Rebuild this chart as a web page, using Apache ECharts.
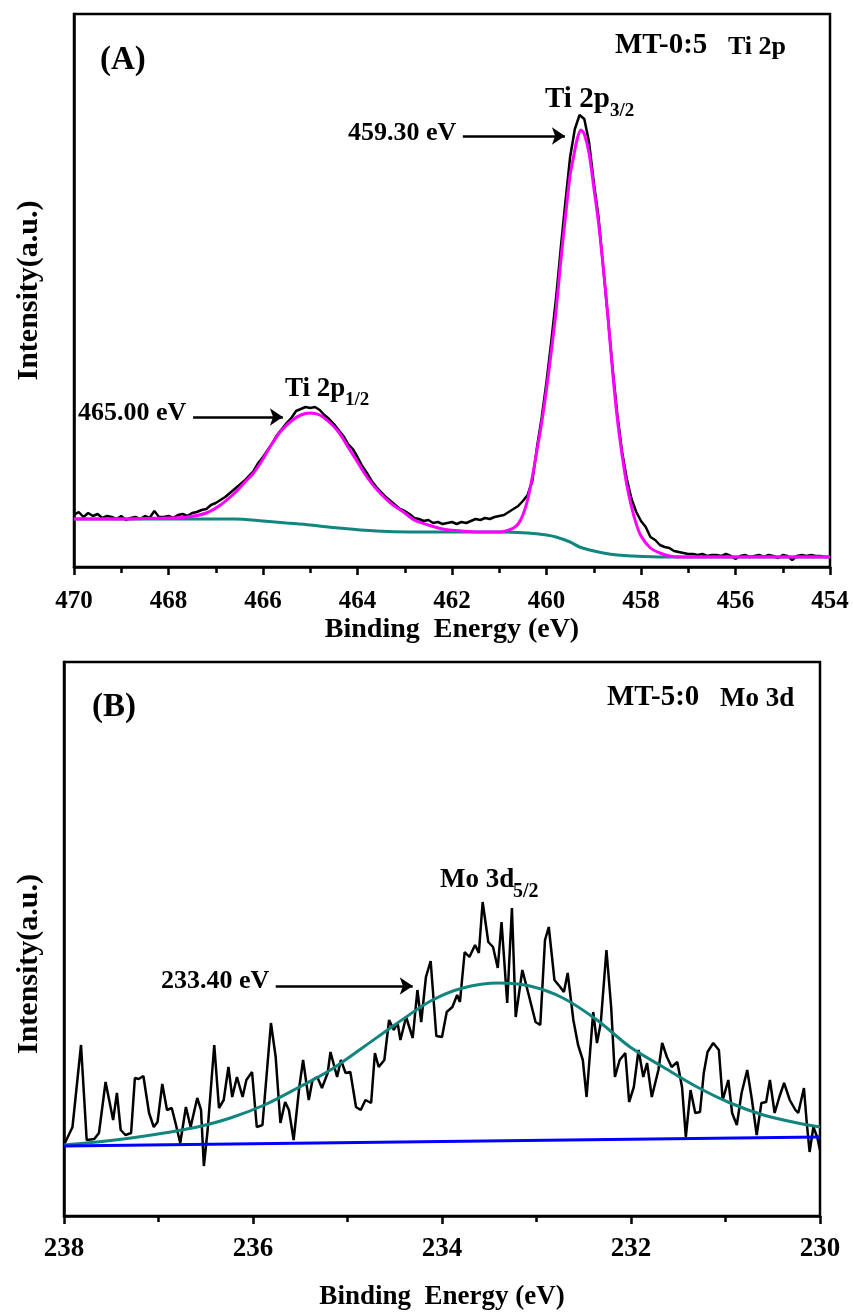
<!DOCTYPE html>
<html>
<head>
<meta charset="utf-8">
<title>XPS Ti 2p / Mo 3d</title>
<script src="https://cdn.jsdelivr.net/npm/echarts@6/dist/echarts.min.js"></script>
<style>
	html, body { margin: 0; padding: 0; background: #fff; }
	#mainChart { width: 853px; height: 1313px; }
</style>
</head>
<body>
<div id="mainChart"></div>
<script>
	// (A) Ti 2p, raw spectrum sampled every 0.1 eV from 470 down to 454
	var tiStart = 470, tiStep = 0.1;
	var tiRaw = [52, 55, 50, 54, 51, 53, 49, 51, 50, 48,
		51, 47, 49, 50, 48, 51, 49, 56, 50, 50,
		51, 49, 52, 53, 51, 54, 55, 57, 58, 62,
		64, 67, 70, 74, 78, 82, 86, 91, 96, 104,
		110, 117, 124, 132, 138, 144, 149, 156, 158, 160,
		159, 160, 157, 152, 148, 143, 137, 131, 123, 118,
		110, 101, 94, 86, 80, 75, 70, 66, 62, 58,
		56, 53, 49, 48, 46, 47, 44, 45, 43, 44,
		45, 43, 45, 44, 46, 48, 47, 49, 48, 50,
		51, 52, 55, 58, 61, 66, 72, 86, 120, 150,
		185, 225, 268, 318, 365, 410, 438, 452, 448, 425,
		385, 350, 300, 250, 198, 152, 115, 88, 68, 55,
		46, 40, 30, 27, 22, 20, 19, 16, 15, 14,
		13, 13, 12, 13, 11, 12, 12, 11, 13, 11,
		8, 11, 12, 10, 11, 12, 10, 12, 11, 9,
		12, 11, 7, 11, 12, 11, 12, 11, 11, 10,
		10];

	// fitted envelope (magenta) and Shirley background (teal)
	var tiFitE = [470, 469, 468.5, 468, 467.6, 467.2, 466.9, 466.6, 466.4, 466.2,
		466.0, 465.8, 465.6, 465.4, 465.2, 465.0, 464.8, 464.6, 464.4, 464.2,
		464.0, 463.8, 463.6, 463.3, 463.0, 462.8, 462.5, 462.2, 461.8, 461.4,
		461.0, 460.8, 460.7, 460.6, 460.5, 460.4, 460.3, 460.2, 460.1, 460.0,
		459.9, 459.8, 459.7, 459.6, 459.5, 459.44, 459.35, 459.27, 459.2, 459.1,
		459.0, 458.9, 458.8, 458.7, 458.6, 458.5, 458.4, 458.3, 458.2, 458.1,
		458.0, 457.8, 457.6, 457.4, 457.2, 454];
	var tiFit = [48, 48, 48.5, 49, 50, 54, 62, 74, 84, 94,
		108, 124, 137, 146, 152, 154, 152, 145, 135, 120,
		105, 90, 78, 64, 54, 47, 42, 38, 36, 35,
		35, 37, 39, 43, 52, 67, 90, 117, 145, 178,
		215, 255, 305, 350, 392, 407, 428, 437, 433, 414,
		380, 345, 300, 250, 195, 148, 112, 82, 60, 43,
		31, 19, 14, 11, 10, 10];
	var tiBgE = [470, 467, 466.6, 466, 465.5, 465, 464.4, 463.6, 462.9, 461,
		460.4, 460, 459.8, 459.5, 459.3, 459, 458.8, 458.5, 458.2, 457.5, 454];
	var tiBg = [48, 48, 48, 46, 44, 42, 39, 36, 35, 35,
		34, 32, 30, 25, 20, 16, 14, 12, 11, 10, 10];

	// (B) Mo 3d raw spectrum
	var moE = [238.00, 237.91, 237.82, 237.76, 237.68, 237.63, 237.56, 237.48, 237.44, 237.40,
		237.35, 237.29, 237.25, 237.21, 237.16, 237.10, 237.05, 237.01, 236.96, 236.91,
		236.86, 236.82, 236.77, 236.71, 236.66, 236.59, 236.55, 236.52, 236.48, 236.41,
		236.36, 236.31, 236.26, 236.22, 236.17, 236.11, 236.07, 236.01, 235.96, 235.90,
		235.81, 235.76, 235.71, 235.66, 235.62, 235.57, 235.51, 235.47, 235.41, 235.37,
		235.32, 235.27, 235.21, 235.18, 235.11, 235.07, 235.02, 234.97, 234.91, 234.86,
		234.81, 234.75, 234.71, 234.67, 234.61, 234.56, 234.51, 234.47, 234.44, 234.38,
		234.31, 234.26, 234.22, 234.17, 234.12, 234.06, 234.00, 233.95, 233.89, 233.84,
		233.81, 233.76, 233.71, 233.65, 233.61, 233.57, 233.51, 233.46, 233.41, 233.37,
		233.31, 233.26, 233.22, 233.15, 233.09, 233.01, 232.96, 232.91, 232.87, 232.81,
		232.75, 232.71, 232.67, 232.61, 232.56, 232.51, 232.47, 232.40, 232.36, 232.32,
		232.26, 232.21, 232.17, 232.12, 232.06, 232.02, 231.97, 231.92, 231.87, 231.83,
		231.78, 231.71, 231.67, 231.62, 231.57, 231.51, 231.46, 231.42, 231.37, 231.32,
		231.27, 231.23, 231.19, 231.13, 231.07, 231.03, 230.97, 230.93, 230.88, 230.83,
		230.77, 230.72, 230.67, 230.62, 230.57, 230.53, 230.48, 230.43, 230.38, 230.32,
		230.26, 230.23, 230.17, 230.14, 230.11, 230.07, 230.03, 230.00];
	var moRaw = [71, 89, 171, 76, 77, 83, 134, 96, 123, 86,
		81, 83, 138, 137, 140, 103, 89, 94, 132, 106,
		108, 93, 73, 109, 89, 118, 106, 50, 86, 171,
		108, 116, 149, 119, 139, 119, 136, 144, 89, 91,
		193, 159, 93, 114, 106, 76, 129, 156, 116, 136,
		139, 128, 143, 164, 139, 156, 143, 144, 109, 106,
		116, 113, 163, 149, 156, 196, 186, 193, 176, 199,
		178, 226, 194, 239, 255, 180, 179, 204, 209, 221,
		214, 264, 259, 271, 263, 314, 274, 269, 248, 294,
		213, 308, 199, 246, 224, 194, 191, 276, 289, 236,
		229, 224, 243, 196, 171, 156, 119, 204, 173, 193,
		266, 209, 139, 156, 163, 114, 129, 166, 139, 153,
		119, 146, 173, 159, 149, 154, 129, 79, 126, 103,
		104, 143, 164, 173, 166, 116, 136, 103, 91, 123,
		146, 116, 81, 113, 114, 136, 103, 119, 133, 116,
		106, 103, 128, 93, 64, 89, 79, 66];
	var moFitE = [238, 237.65, 237.29, 236.94, 236.59, 236.24, 235.88, 235.53, 235.18, 234.83,
		234.47, 234.12, 233.78, 233.4, 233.07, 232.72, 232.36, 232.01, 231.66, 231.30,
		230.95, 230.60, 230.24, 230];
	var moFit = [71, 74, 78, 83, 89, 98, 111, 128, 146, 169,
		193, 215, 228, 233, 230, 218, 196, 169, 149, 129,
		113, 101, 93, 89];
	var moBaseE = [238, 230];
	var moBase = [70, 79];

	var serif = '"Liberation Serif", "Times New Roman", serif';

	function zip(xs, ys) {
		var out = [];
		for (var i = 0; i < ys.length; i++) {
			out.push([xs[i], ys[i]]);
		}
		return out;
	}
	function tiRawData() {
		var out = [];
		for (var i = 0; i < tiRaw.length; i++) {
			out.push([Math.round((tiStart - i * tiStep) * 10) / 10, tiRaw[i]]);
		}
		return out;
	}
	function xAx(idx, min, max, labelSize, nameSize, nameGap, labelMargin) {
		return {
			type : 'value',
			gridIndex : idx,
			min : min,
			max : max,
			interval : 2,
			inverse : true,
			name : 'Binding  Energy (eV)',
			nameLocation : 'middle',
			nameGap : nameGap,
			nameTextStyle : { fontFamily : serif, fontWeight : 'bold', fontSize : nameSize, color : '#000' },
			axisLine : { lineStyle : { color : '#000', width : 2.5 } },
			axisTick : { inside : false, length : 8, lineStyle : { color : '#000', width : 2.5 } },
			minorTick : { show : true, splitNumber : 2, length : 6, lineStyle : { color : '#000', width : 2.5 } },
			axisLabel : { fontFamily : serif, fontWeight : 'bold', fontSize : labelSize, color : '#000', margin : labelMargin },
			splitLine : { show : false }
		};
	}
	function yAx(idx, max, nameGap, shift) {
		return {
			type : 'value',
			gridIndex : idx,
			min : 0,
			max : max,
			name : 'Intensity(a.u.)',
			nameLocation : 'middle',
			nameGap : nameGap,
			nameTextStyle : { fontFamily : serif, fontWeight : 'bold', fontSize : 30, color : '#000', padding : shift },
			axisLine : { show : true, lineStyle : { color : '#000', width : 2.5 } },
			axisTick : { show : false },
			axisLabel : { show : false },
			splitLine : { show : false }
		};
	}
	function arrow(x1, y1, x2, y2) {
		return [ { coord : [x1, y1] }, { coord : [x2, y2] } ];
	}
	function txt(x, y, s, size) {
		return {
			type : 'text',
			x : x,
			y : y,
			z : 100,
			style : { text : s, fill : '#000', font : 'bold ' + size + 'px ' + serif, verticalAlign : 'middle', align : 'left' }
		};
	}
	function arrows(list) {
		return {
			silent : true,
			symbol : ['none', 'arrow'],
			symbolSize : 13,
			label : { show : false },
			lineStyle : { color : '#000', width : 2.5, type : 'solid' },
			emphasis : { disabled : true },
			animation : false,
			data : list
		};
	}

	var myChart = echarts.init(document.getElementById('mainChart'));
	var option = {
		backgroundColor : '#fff',
		animation : false,
		grid : [
			{ left : 74, top : 14, width : 756, height : 553, show : true, borderColor : '#000', borderWidth : 2.5 },
			{ left : 64, top : 662, width : 756, height : 554, show : true, borderColor : '#000', borderWidth : 2.5 }
		],
		xAxis : [ xAx(0, 454, 470, 25, 28, 49, 22), xAx(1, 230, 238, 27, 27, 68, 20) ],
		yAxis : [ yAx(0, 553, 30, 0), yAx(1, 554, 20, [0, 50, 0, 0]) ],
		series : [
			{
				name : 'Ti raw', type : 'line', xAxisIndex : 0, yAxisIndex : 0,
				data : tiRawData(), showSymbol : false, symbol : 'none',
				lineStyle : { color : '#000', width : 2.5 },
				// arrows pointing at the peaks, placed in data coordinates
				markLine : arrows([
					arrow(461.77, 431, 459.61, 431),
					arrow(467.48, 150, 465.58, 150)
				])
			},
			{
				name : 'Ti background', type : 'line', xAxisIndex : 0, yAxisIndex : 0,
				data : zip(tiBgE, tiBg), showSymbol : false, symbol : 'none', smooth : 0.3,
				lineStyle : { color : '#12857e', width : 3 }
			},
			{
				name : 'Ti fit', type : 'line', xAxisIndex : 0, yAxisIndex : 0,
				data : zip(tiFitE, tiFit), showSymbol : false, symbol : 'none', smooth : 0.3,
				lineStyle : { color : '#ff00ff', width : 3 }
			},
			{
				name : 'Mo raw', type : 'line', xAxisIndex : 1, yAxisIndex : 1,
				data : zip(moE, moRaw), showSymbol : false, symbol : 'none',
				lineStyle : { color : '#000', width : 2.5 },
				markLine : arrows([ arrow(235.76, 230, 234.31, 230) ])
			},
			{
				name : 'Mo fit', type : 'line', xAxisIndex : 1, yAxisIndex : 1,
				data : zip(moFitE, moFit), showSymbol : false, symbol : 'none', smooth : 0.3,
				lineStyle : { color : '#12857e', width : 3 }
			},
			{
				name : 'Mo baseline', type : 'line', xAxisIndex : 1, yAxisIndex : 1,
				data : zip(moBaseE, moBase), showSymbol : false, symbol : 'none',
				lineStyle : { color : '#0000ff', width : 3 }
			}
		],
		graphic : [
			txt(100, 60, '(A)', 33),
			txt(615, 46, 'MT-0:5', 29),
			txt(728, 47, 'Ti 2p', 26),
			txt(545, 100, 'Ti 2p', 29),
			txt(610, 111, '3/2', 19),
			txt(348, 133, '459.30 eV', 26),
			txt(78, 413, '465.00 eV', 26),
			txt(285, 389, 'Ti 2p', 27),
			txt(345, 400, '1/2', 19),
			txt(92, 707, '(B)', 33),
			txt(607, 698, 'MT-5:0', 29),
			txt(720, 699, 'Mo 3d', 27),
			txt(440, 880, 'Mo 3d', 27),
			txt(513, 892, '5/2', 20),
			txt(161, 981, '233.40 eV', 26)
		]
	};
	myChart.setOption(option, true);
</script>
</body>
</html>
